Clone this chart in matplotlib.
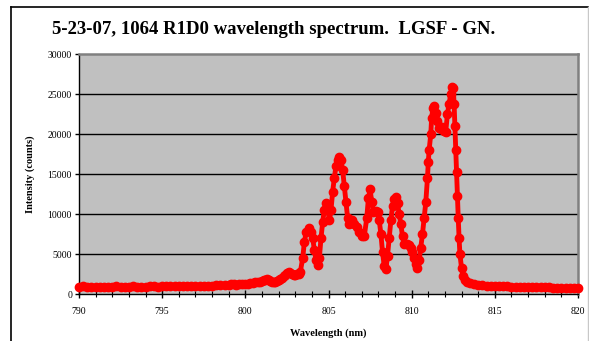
import matplotlib.pyplot as plt
from matplotlib.lines import Line2D

# spectrum
wavelength = [
    790.0, 790.25, 790.5, 790.75, 791.0, 791.25, 791.5, 791.75, 792.0, 792.25,
    792.5, 792.75, 793.0, 793.25, 793.5, 793.75, 794.0, 794.25, 794.5, 794.75,
    795.0, 795.25, 795.5, 795.75, 796.0, 796.25, 796.5, 796.75, 797.0, 797.25,
    797.5, 797.75, 798.0, 798.25, 798.5, 798.75, 799.0, 799.15, 799.3, 799.45,
    799.6, 799.8, 800.0, 800.15, 800.3, 800.45, 800.6, 800.75, 800.9, 801.0,
    801.1, 801.2, 801.3, 801.4, 801.5, 801.6, 801.7, 801.8, 801.9, 802.0,
    802.1, 802.2, 802.3, 802.4, 802.5, 802.6, 802.7, 802.8, 802.9, 803.0,
    803.1, 803.2, 803.3, 803.45, 803.55,
    803.65, 803.8, 803.95, 804.05, 804.15, 804.25, 804.35, 804.45, 804.55, 804.65,
    804.75, 804.85, 804.95, 805.05, 805.15, 805.25, 805.35, 805.45, 805.55, 805.65,
    805.75, 805.85, 805.95, 806.05, 806.15, 806.25, 806.4, 806.55, 806.7, 806.85,
    807.0, 807.15, 807.3, 807.4, 807.5, 807.6, 807.7, 807.85, 807.95, 808.05,
    808.15, 808.25, 808.35, 808.45, 808.55, 808.65, 808.75, 808.85, 808.95, 809.05,
    809.15, 809.25, 809.35, 809.45, 809.55, 809.7, 809.85, 809.95, 810.05, 810.15,
    810.25, 810.35, 810.45, 810.55, 810.65, 810.75, 810.85, 810.95, 811.0, 811.05,
    811.15, 811.2, 811.28, 811.35, 811.45, 811.55, 811.65, 811.75, 811.85, 811.95,
    812.05, 812.15, 812.25, 812.35, 812.45, 812.5, 812.55, 812.6, 812.65, 812.7,
    812.75, 812.8, 812.85, 812.9, 813.0, 813.1, 813.2, 813.35, 813.5, 813.75,
    814.0, 814.25, 814.5, 814.75, 815.0, 815.25, 815.5, 815.75, 816.0, 816.25,
    816.5, 816.75, 817.0, 817.25, 817.5, 817.75, 818.0, 818.25, 818.5, 818.75,
    819.0, 819.25, 819.5, 819.75, 820.0,
]
counts = [
    900, 950, 880, 860, 900, 930, 870, 890, 900, 940,
    910, 880, 900, 960, 930, 900, 920, 980, 950, 920,
    940, 990, 960, 950, 970, 1020, 990, 980, 1000, 1060,
    1030, 1020, 1050, 1120, 1100, 1080, 1150, 1200, 1250, 1180,
    1200, 1250, 1300, 1280, 1350, 1400, 1450, 1500, 1550, 1600,
    1700, 1800, 1850, 1750, 1600, 1500, 1450, 1500, 1600, 1750,
    1900, 2050, 2200, 2400, 2600, 2800, 2600, 2450, 2350, 2400,
    2450, 2550, 2700, 4500, 6500,
    7700, 8200, 7800, 7000, 5500, 4200, 3600, 4500, 7000, 9000,
    10500, 11400, 10800, 9200, 10500, 12800, 14500, 16000, 16800, 17100,
    16700, 15500, 13500, 11500, 9500, 8700, 9300, 8800, 8400, 7800,
    7300, 7200, 9500, 12000, 13100, 11500, 10200, 10400, 10200, 9200,
    7500, 5200, 3500, 3100, 4800, 7000, 9200, 11000, 11900, 12100,
    11400, 10000, 8700, 7200, 6300, 6200, 6100, 5800, 5200, 4500,
    3700, 3200, 4200, 5800, 7500, 9500, 11500, 14500, 16500, 18000,
    20000, 22000, 23300, 23500, 22600, 21600, 20800, 20600, 20900, 20400,
    20300, 22500, 23800, 25000, 25900, 25700, 23800, 21000, 18000, 15200,
    12200, 9500, 7000, 5000, 3200, 2200, 1800, 1500, 1350, 1250,
    1150, 1100, 1050, 1020, 1000, 980, 950, 940, 920, 910,
    900, 890, 880, 860, 850, 840, 830, 820, 800, 810,
    790, 780, 780, 770, 760,
]

title = "5-23-07, 1064 R1D0 wavelength spectrum.  LGSF - GN."
x_ticks = [790, 795, 800, 805, 810, 815, 820]
y_ticks = [0, 5000, 10000, 15000, 20000, 25000, 30000]

serif = ["Liberation Serif", "DejaVu Serif"]

fig = plt.figure(figsize=(5.89, 3.41), dpi=100)
fig.patch.set_facecolor("white")

# outer chart frame
W, H = 589, 341
fig.add_artist(Line2D([11 / W, 11 / W], [0, 1 - 7 / H], color="black", lw=1.2))
fig.add_artist(Line2D([11 / W, 588 / W], [1 - 7 / H, 1 - 7 / H], color="black", lw=1.2))
fig.add_artist(Line2D([588 / W, 588 / W], [0, 1 - 7 / H], color="#c8c8c8", lw=1.0))

ax = fig.add_axes([79 / W, 47 / H, 499 / W, 240 / H])
ax.set_facecolor("#c0c0c0")

for y in y_ticks[1:-1]:
    ax.axhline(y, color="black", lw=1.0, zorder=1)

ax.plot(wavelength, counts, color="red", lw=3.5, marker="o", ms=6,
        mec="red", mfc="red", zorder=3, clip_on=False)

ax.set_xlim(790, 820)
ax.set_ylim(0, 30000)
ax.set_xticks(x_ticks)
ax.set_xticks(range(790, 821), minor=True)
ax.set_yticks(y_ticks)

for s in ["top", "right"]:
    ax.spines[s].set_color("#808080")
    ax.spines[s].set_linewidth(1.8)
for s in ["left", "bottom"]:
    ax.spines[s].set_color("black")
    ax.spines[s].set_linewidth(1.0)

ax.tick_params(axis="x", which="major", direction="inout", length=6, width=1,
               pad=6, labelsize=7)
ax.tick_params(axis="x", which="minor", direction="inout", length=4, width=0.8)
ax.tick_params(axis="y", which="major", direction="out", length=3, width=1,
               pad=2, labelsize=7)
for lab in ax.get_xticklabels() + ax.get_yticklabels():
    lab.set_family(serif)

ax.set_xlabel("Wavelength (nm)", family=serif, fontsize=7.5, fontweight="bold",
              labelpad=9)
ax.set_ylabel("Intensity (counts)", family=serif, fontsize=7.5, fontweight="bold",
              labelpad=9)

fig.text(52 / W, 1 - 30 / H, title, family=serif, fontsize=13.5, fontweight="bold",
         ha="left", va="center")

fig.savefig("out.png", dpi=100)
